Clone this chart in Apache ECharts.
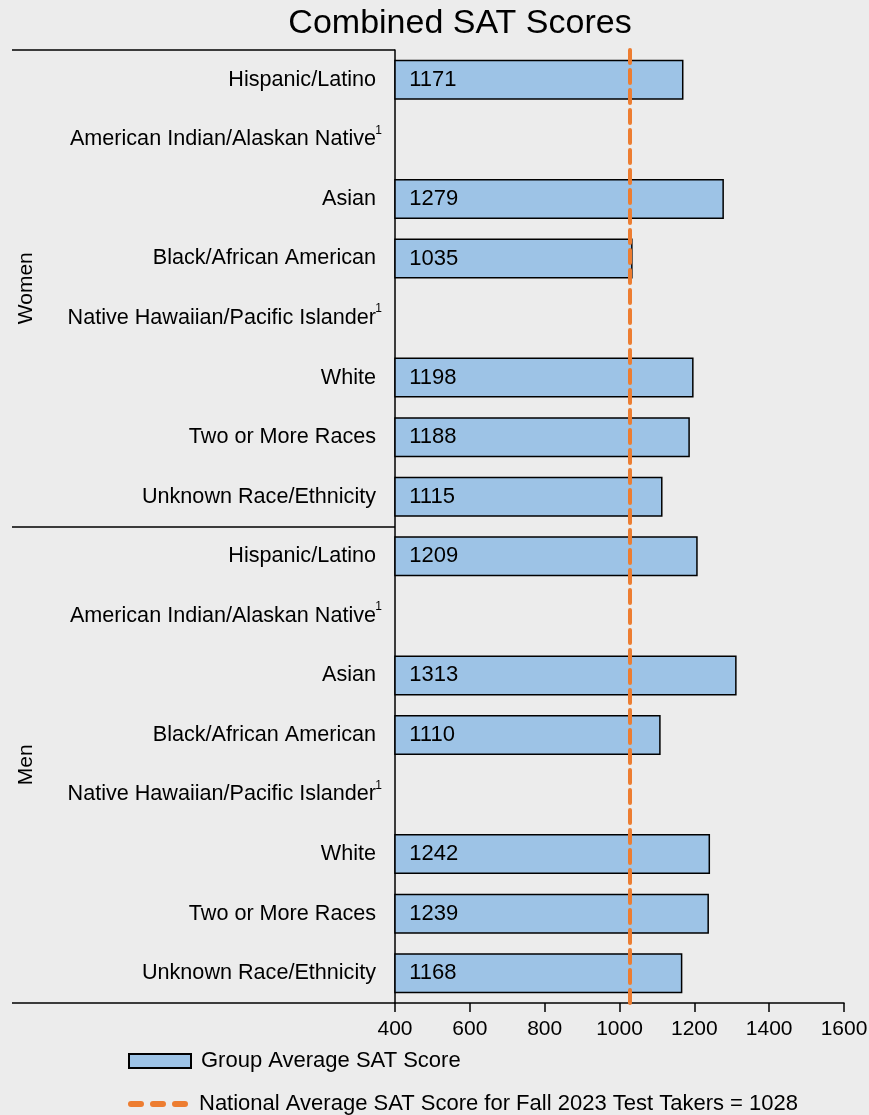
<!DOCTYPE html>
<html>
<head>
<meta charset="utf-8">
<script src="https://cdn.jsdelivr.net/npm/echarts@6/dist/echarts.min.js"></script>
<style>
html,body{margin:0;padding:0;background:#ececec;}
#chart{width:869px;height:1115px;}
</style>
</head>
<body>
<div id="chart"></div>
<script>
const titleText = 'Combined SAT Scores';
const groups = ['Women', 'Men'];
const categories = ['Hispanic/Latino', 'American Indian/Alaskan Native', 'Asian', 'Black/African American',
  'Native Hawaiian/Pacific Islander', 'White', 'Two or More Races', 'Unknown Race/Ethnicity'];
const footnoted = [false, true, false, false, true, false, false, false];
const womenScores = [1171, null, 1279, 1035, null, 1198, 1188, 1115];
const menScores = [1209, null, 1313, 1110, null, 1242, 1239, 1168];
const nationalAverage = 1028;
const xTicks = [400, 600, 800, 1000, 1200, 1400, 1600];
const barName = 'Group Average SAT Score';
const lineName = 'National Average SAT Score for Fall 2023 Test Takers = ' + nationalAverage;

const FONT = '"Liberation Sans", Arial, sans-serif';
const ORANGE = '#ed7d31';
const rowKeys = [];
const rowScores = [];
groups.forEach((g, gi) => {
  const scores = gi === 0 ? womenScores : menScores;
  categories.forEach((c, ci) => {
    rowKeys.push(g + '|' + ci);
    rowScores.push(scores[ci]);
  });
});

const legendText = { fontFamily: FONT, fontSize: 22, color: '#000', padding: [0, 0, 0, 5] };

const chart = echarts.init(document.getElementById('chart'));
chart.setOption({
  backgroundColor: '#ececec',
  animation: false,
  textStyle: { fontFamily: FONT },
  title: {
    text: titleText,
    left: 455, top: 2, textAlign: 'center',
    textStyle: { fontFamily: FONT, fontSize: 34, fontWeight: 'normal', color: '#000' }
  },
  grid: { left: 395, right: 25, top: 50, bottom: 112, containLabel: false, outerBoundsMode: 'none' },
  legend: [
    {
      left: 123, top: 1045,
      itemWidth: 62, itemHeight: 14,
      textStyle: legendText,
      data: [{ name: barName, icon: 'rect' }]
    },
    {
      left: 123, top: 1088,
      itemWidth: 62, itemHeight: 6,
      textStyle: legendText,
      data: [{ name: lineName, icon: 'path://M3,0h10a3,3 0 0 1 0,6h-10a3,3 0 0 1 0,-6z M25,0h10a3,3 0 0 1 0,6h-10a3,3 0 0 1 0,-6z M47,0h10a3,3 0 0 1 0,6h-10a3,3 0 0 1 0,-6z' }]
    }
  ],
  xAxis: {
    type: 'value',
    min: xTicks[0], max: xTicks[xTicks.length - 1], interval: xTicks[1] - xTicks[0],
    axisLine: { show: true, lineStyle: { color: '#000', width: 1.5 } },
    axisTick: { show: true, length: 9, lineStyle: { color: '#000', width: 1.5 } },
    axisLabel: { color: '#000', fontSize: 21, fontFamily: FONT, margin: 16, formatter: v => String(v) },
    splitLine: { show: false }
  },
  yAxis: [
    {
      type: 'category',
      inverse: true,
      data: rowKeys,
      position: 'left',
      axisLine: { show: true, lineStyle: { color: '#000', width: 1.5 } },
      axisTick: { show: false },
      axisLabel: {
        margin: 13,
        interval: 0,
        formatter: function (v) {
          const ci = +v.split('|')[1];
          return '{n|' + categories[ci] + '}' + (footnoted[ci] ? '{s|1}' : '{sp| }');
        },
        rich: {
          n: { fontSize: 21.6, color: '#000', fontFamily: FONT, lineHeight: 30 },
          s: { fontSize: 12, color: '#000', fontFamily: FONT, verticalAlign: 'top', lineHeight: 14, width: 6 },
          sp: { fontSize: 12, width: 6, lineHeight: 14 }
        }
      }
    },
    {
      type: 'category',
      inverse: true,
      data: groups,
      position: 'left',
      offset: 0,
      axisLine: { show: false },
      axisTick: { show: true, length: 383, lineStyle: { color: '#000', width: 1.5 } },
      axisLabel: { rotate: 90, margin: 358, color: '#000', fontSize: 21, fontFamily: FONT }
    }
  ],
  series: [
    {
      name: barName,
      type: 'bar',
      yAxisIndex: 0,
      data: rowScores,
      barWidth: 40,
      itemStyle: { color: '#9dc3e6', borderColor: '#000', borderWidth: 1.5 },
      label: {
        show: true, position: 'insideLeft', distance: 15,
        color: '#000', fontSize: 22, fontFamily: FONT,
        formatter: p => p.value
      }
    },
    {
      name: lineName,
      type: 'line',
      yAxisIndex: 0,
      data: [],
      symbol: 'none',
      itemStyle: { color: ORANGE },
      lineStyle: { color: ORANGE, width: 4, type: [13, 8], cap: 'round' },
      markLine: {
        silent: true,
        symbol: ['none', 'none'],
        label: { show: false },
        lineStyle: { color: ORANGE, width: 4, type: [13, 7], cap: 'round' },
        data: [{ xAxis: nationalAverage }]
      },
      z: 5
    }
  ]
});
</script>
</body>
</html>
